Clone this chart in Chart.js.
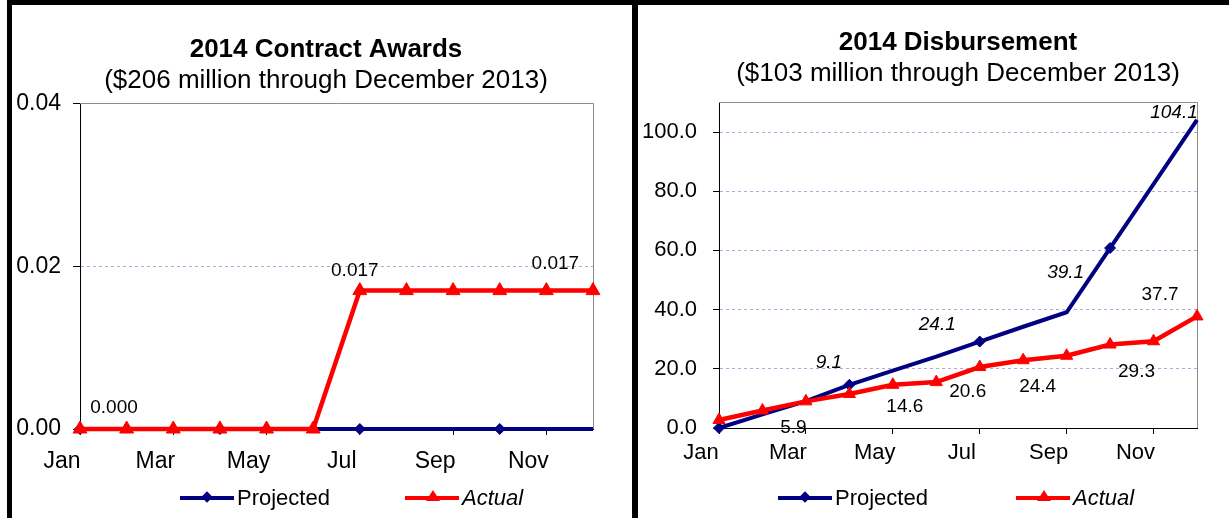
<!DOCTYPE html>
<html>
<head>
<meta charset="utf-8">
<script src="https://cdn.jsdelivr.net/npm/chart.js@4.4.1/dist/chart.umd.min.js"></script>
<style>
  html, body { margin: 0; padding: 0; background: #fff; }
  body { width: 1229px; height: 518px; position: relative; overflow: hidden; font-family: "Liberation Sans", Arial, sans-serif; }
  .bar { position: absolute; background: #000; z-index: 5; }
  .panel { position: absolute; top: 5px; height: 513px; }
  .legend-item { position: absolute; top: 485px; height: 26px; line-height: 26px; font-size: 22px; color: #000; display: flex; align-items: center; white-space: nowrap; }
  .swatch { position: relative; width: 54px; height: 4px; margin-right: 3px; }
  .dia { position: absolute; left: 23px; top: -3px; width: 8px; height: 8px; transform: rotate(45deg); }
  .tri { position: absolute; left: 21px; top: -6px; width: 0; height: 0; border-left: 7px solid transparent; border-right: 7px solid transparent; border-bottom: 11px solid; }
</style>
</head>
<body>
<div class="panel" style="left:12px;width:627px"><canvas id="chart-awards" width="627" height="513"></canvas></div>
<div class="panel" style="left:638px;width:591px"><canvas id="chart-disb" width="591" height="513"></canvas></div>
<div class="bar" style="left:7px;top:0;width:1222px;height:5px"></div>
<div class="bar" style="left:7px;top:0;width:5px;height:518px"></div>
<div class="bar" style="left:632px;top:0;width:6px;height:518px"></div>
<div id="legend-awards"></div>
<div id="legend-disb"></div>
<script>
const FONT = "'Liberation Sans', Arial, sans-serif";

const months = ["Jan", "Feb", "Mar", "Apr", "May", "Jun", "Jul", "Aug", "Sep", "Oct", "Nov", "Dec"];
const seriesNames = ["Projected", "Actual"];

// 2014 Contract Awards
const awardsProjected = [0, 0, 0, 0, 0, 0, 0, 0, 0, 0, 0, 0];
const awardsActual = [0, 0, 0, 0, 0, 0, 0.017, 0.017, 0.017, 0.017, 0.017, 0.017];
const awardsTicks = [0, 0.02, 0.04];

// 2014 Disbursement
const disbProjected = [0, 4.6, 9.1, 14.6, 19.4, 24.1, 29.2, 34.2, 39.1, 60.8, 82.4, 104.1];
const disbActual = [2.7, 5.9, 9.0, 11.5, 14.6, 15.5, 20.6, 22.9, 24.4, 28.2, 29.3, 37.7];
const disbTicks = [0, 20, 40, 60, 80, 100];

const NAVY = "#000080";
const RED = "#ff0000";
const GRID = "rgba(150,140,205,0.75)";

Chart.defaults.color = "#000";
Chart.defaults.font.family = FONT;

// gray frame on the top and right of the plot area
const plotFrame = {
  id: "plotFrame",
  beforeDatasetsDraw(chart) {
    const { ctx, chartArea: a } = chart;
    ctx.save();
    ctx.strokeStyle = "#8c8c8c";
    ctx.lineWidth = 1;
    ctx.beginPath();
    ctx.moveTo(a.left, Math.round(a.top) + 0.5);
    ctx.lineTo(Math.round(a.right) + 0.5, Math.round(a.top) + 0.5);
    ctx.lineTo(Math.round(a.right) + 0.5, a.bottom);
    ctx.stroke();
    ctx.restore();
  },
};

// data labels on a few points
const valueLabels = {
  id: "valueLabels",
  afterDatasetsDraw(chart, args, opts) {
    const { ctx } = chart;
    (opts.items || []).forEach((it) => {
      const pt = chart.getDatasetMeta(it.ds).data[it.i];
      const v = chart.data.datasets[it.ds].data[it.i];
      ctx.save();
      ctx.font = (it.italic ? "italic " : "") + opts.size + "px " + FONT;
      ctx.fillStyle = "#000";
      ctx.textAlign = "center";
      ctx.textBaseline = "middle";
      ctx.fillText(v.toFixed(opts.digits), pt.x + it.dx, pt.y + it.dy);
      ctx.restore();
    });
  },
};

function datasets(projected, actual, triSize) {
  return [
    {
      label: seriesNames[0],
      data: projected,
      borderColor: NAVY,
      backgroundColor: NAVY,
      borderWidth: 4,
      pointStyle: "rectRot",
      pointRadius: (c) => (c.dataIndex % 3 === 0 ? 5.5 : 0),
      pointBorderWidth: 1,
      tension: 0,
      clip: false,
      order: 1,
    },
    {
      label: seriesNames[1],
      data: actual,
      borderColor: RED,
      backgroundColor: RED,
      borderWidth: 4.5,
      pointStyle: "triangle",
      pointRadius: triSize,
      pointBorderWidth: 1,
      tension: 0,
      clip: false,
      order: 0,
    },
  ];
}

function xAxis(fontSize, pad, height) {
  return {
    type: "category",
    offset: false,
    border: { display: true, color: "#000", width: 1 },
    grid: {
      drawOnChartArea: false,
      tickLength: 6,
      tickColor: (c) => (c.index % 2 ? "rgba(0,0,0,0)" : "#000"),
    },
    ticks: {
      autoSkip: false,
      maxRotation: 0,
      labelOffset: -18,
      padding: pad,
      font: { size: fontSize },
      callback: (v, i) => (i % 2 ? "" : months[i]),
    },
    afterFit: (s) => { s.height = height; },
  };
}

function yAxis(max, ticks, digits, fontSize, pad, tickLen, width) {
  return {
    min: 0,
    max: max,
    border: { display: true, color: "#000", width: 1, dash: [3, 3] },
    grid: {
      color: (c) => (c.tick && c.tick.value === 0 ? "rgba(0,0,0,0)" : GRID),
      tickColor: "#000",
      tickBorderDash: [1, 0],
      tickLength: tickLen,
    },
    afterBuildTicks: (s) => { s.ticks = ticks.map((v) => ({ value: v })); },
    ticks: {
      padding: pad,
      font: { size: fontSize },
      callback: (v) => Number(v).toFixed(digits),
    },
    afterFit: (s) => { s.width = width; },
  };
}

function titleOpts(text, bold, full, bottom) {
  return {
    display: true,
    text: text,
    fullSize: full,
    color: "#000",
    font: { size: 26, weight: bold ? "bold" : "normal" },
    padding: { top: 0, bottom: bottom },
  };
}

const awardsChart = new Chart(document.getElementById("chart-awards"), {
  type: "line",
  data: { labels: months, datasets: datasets(awardsProjected, awardsActual, 8) },
  options: {
    responsive: false,
    animation: false,
    devicePixelRatio: 1,
    layout: { padding: { top: 29, left: 1, right: 0, bottom: 45 } },
    scales: {
      x: xAxis(23, 13, 44),
      y: yAxis(0.04, awardsTicks, 2, 23, 12, 7, 67),
      // empty axis on the right, only to centre the titles as in the original
      yPad: {
        position: "right",
        display: true,
        grid: { display: false },
        border: { display: false },
        ticks: { display: false },
        afterFit: (s) => { s.width = 46; },
      },
    },
    plugins: {
      legend: { display: false },
      tooltip: { enabled: false },
      title: titleOpts("2014 Contract Awards", true, true, 0),
      subtitle: titleOpts("($206 million through December 2013)", false, true, 7),
      valueLabels: {
        size: 19,
        digits: 3,
        items: [
          { ds: 1, i: 0, dx: 34, dy: -21 },
          { ds: 1, i: 6, dx: -5, dy: -20 },
          { ds: 1, i: 10, dx: 9, dy: -27 },
        ],
      },
    },
  },
  plugins: [plotFrame, valueLabels],
});

const disbChart = new Chart(document.getElementById("chart-disb"), {
  type: "line",
  data: { labels: months, datasets: datasets(disbProjected, disbActual, 7) },
  options: {
    responsive: false,
    animation: false,
    devicePixelRatio: 1,
    layout: { padding: { top: 22, left: 1, right: 32, bottom: 46 } },
    scales: {
      x: xAxis(22, 6, 44),
      y: yAxis(110, disbTicks, 1, 22, 16, 6, 80),
    },
    plugins: {
      legend: { display: false },
      tooltip: { enabled: false },
      title: titleOpts("2014 Disbursement", true, false, 0),
      subtitle: titleOpts("($103 million through December 2013)", false, false, 13),
      valueLabels: {
        size: 19,
        digits: 1,
        items: [
          { ds: 0, i: 2, dx: 23, dy: -38, italic: true },
          { ds: 0, i: 5, dx: 1, dy: -32, italic: true },
          { ds: 0, i: 8, dx: -1, dy: -40, italic: true },
          { ds: 0, i: 11, dx: -23, dy: -7, italic: true },
          { ds: 1, i: 1, dx: 31, dy: 17 },
          { ds: 1, i: 4, dx: 12, dy: 22 },
          { ds: 1, i: 6, dx: -12, dy: 25 },
          { ds: 1, i: 8, dx: -29, dy: 31 },
          { ds: 1, i: 10, dx: -17, dy: 30 },
          { ds: 1, i: 11, dx: -37, dy: -22 },
        ],
      },
    },
  },
  plugins: [plotFrame, valueLabels],
});

// html legends built from the datasets
function buildLegend(chart, el, lefts) {
  chart.data.datasets.forEach((ds, k) => {
    const item = document.createElement("div");
    item.className = "legend-item";
    item.style.left = lefts[k] + "px";
    const sw = document.createElement("span");
    sw.className = "swatch";
    sw.style.background = ds.borderColor;
    const mk = document.createElement("i");
    mk.className = ds.pointStyle === "triangle" ? "tri" : "dia";
    if (ds.pointStyle === "triangle") mk.style.borderBottomColor = ds.borderColor;
    else mk.style.background = ds.borderColor;
    sw.appendChild(mk);
    const txt = document.createElement(ds.label === "Actual" ? "em" : "span");
    txt.textContent = ds.label;
    item.appendChild(sw);
    item.appendChild(txt);
    el.appendChild(item);
  });
}

buildLegend(awardsChart, document.getElementById("legend-awards"), [180, 405]);
buildLegend(disbChart, document.getElementById("legend-disb"), [778, 1016]);
</script>
</body>
</html>
